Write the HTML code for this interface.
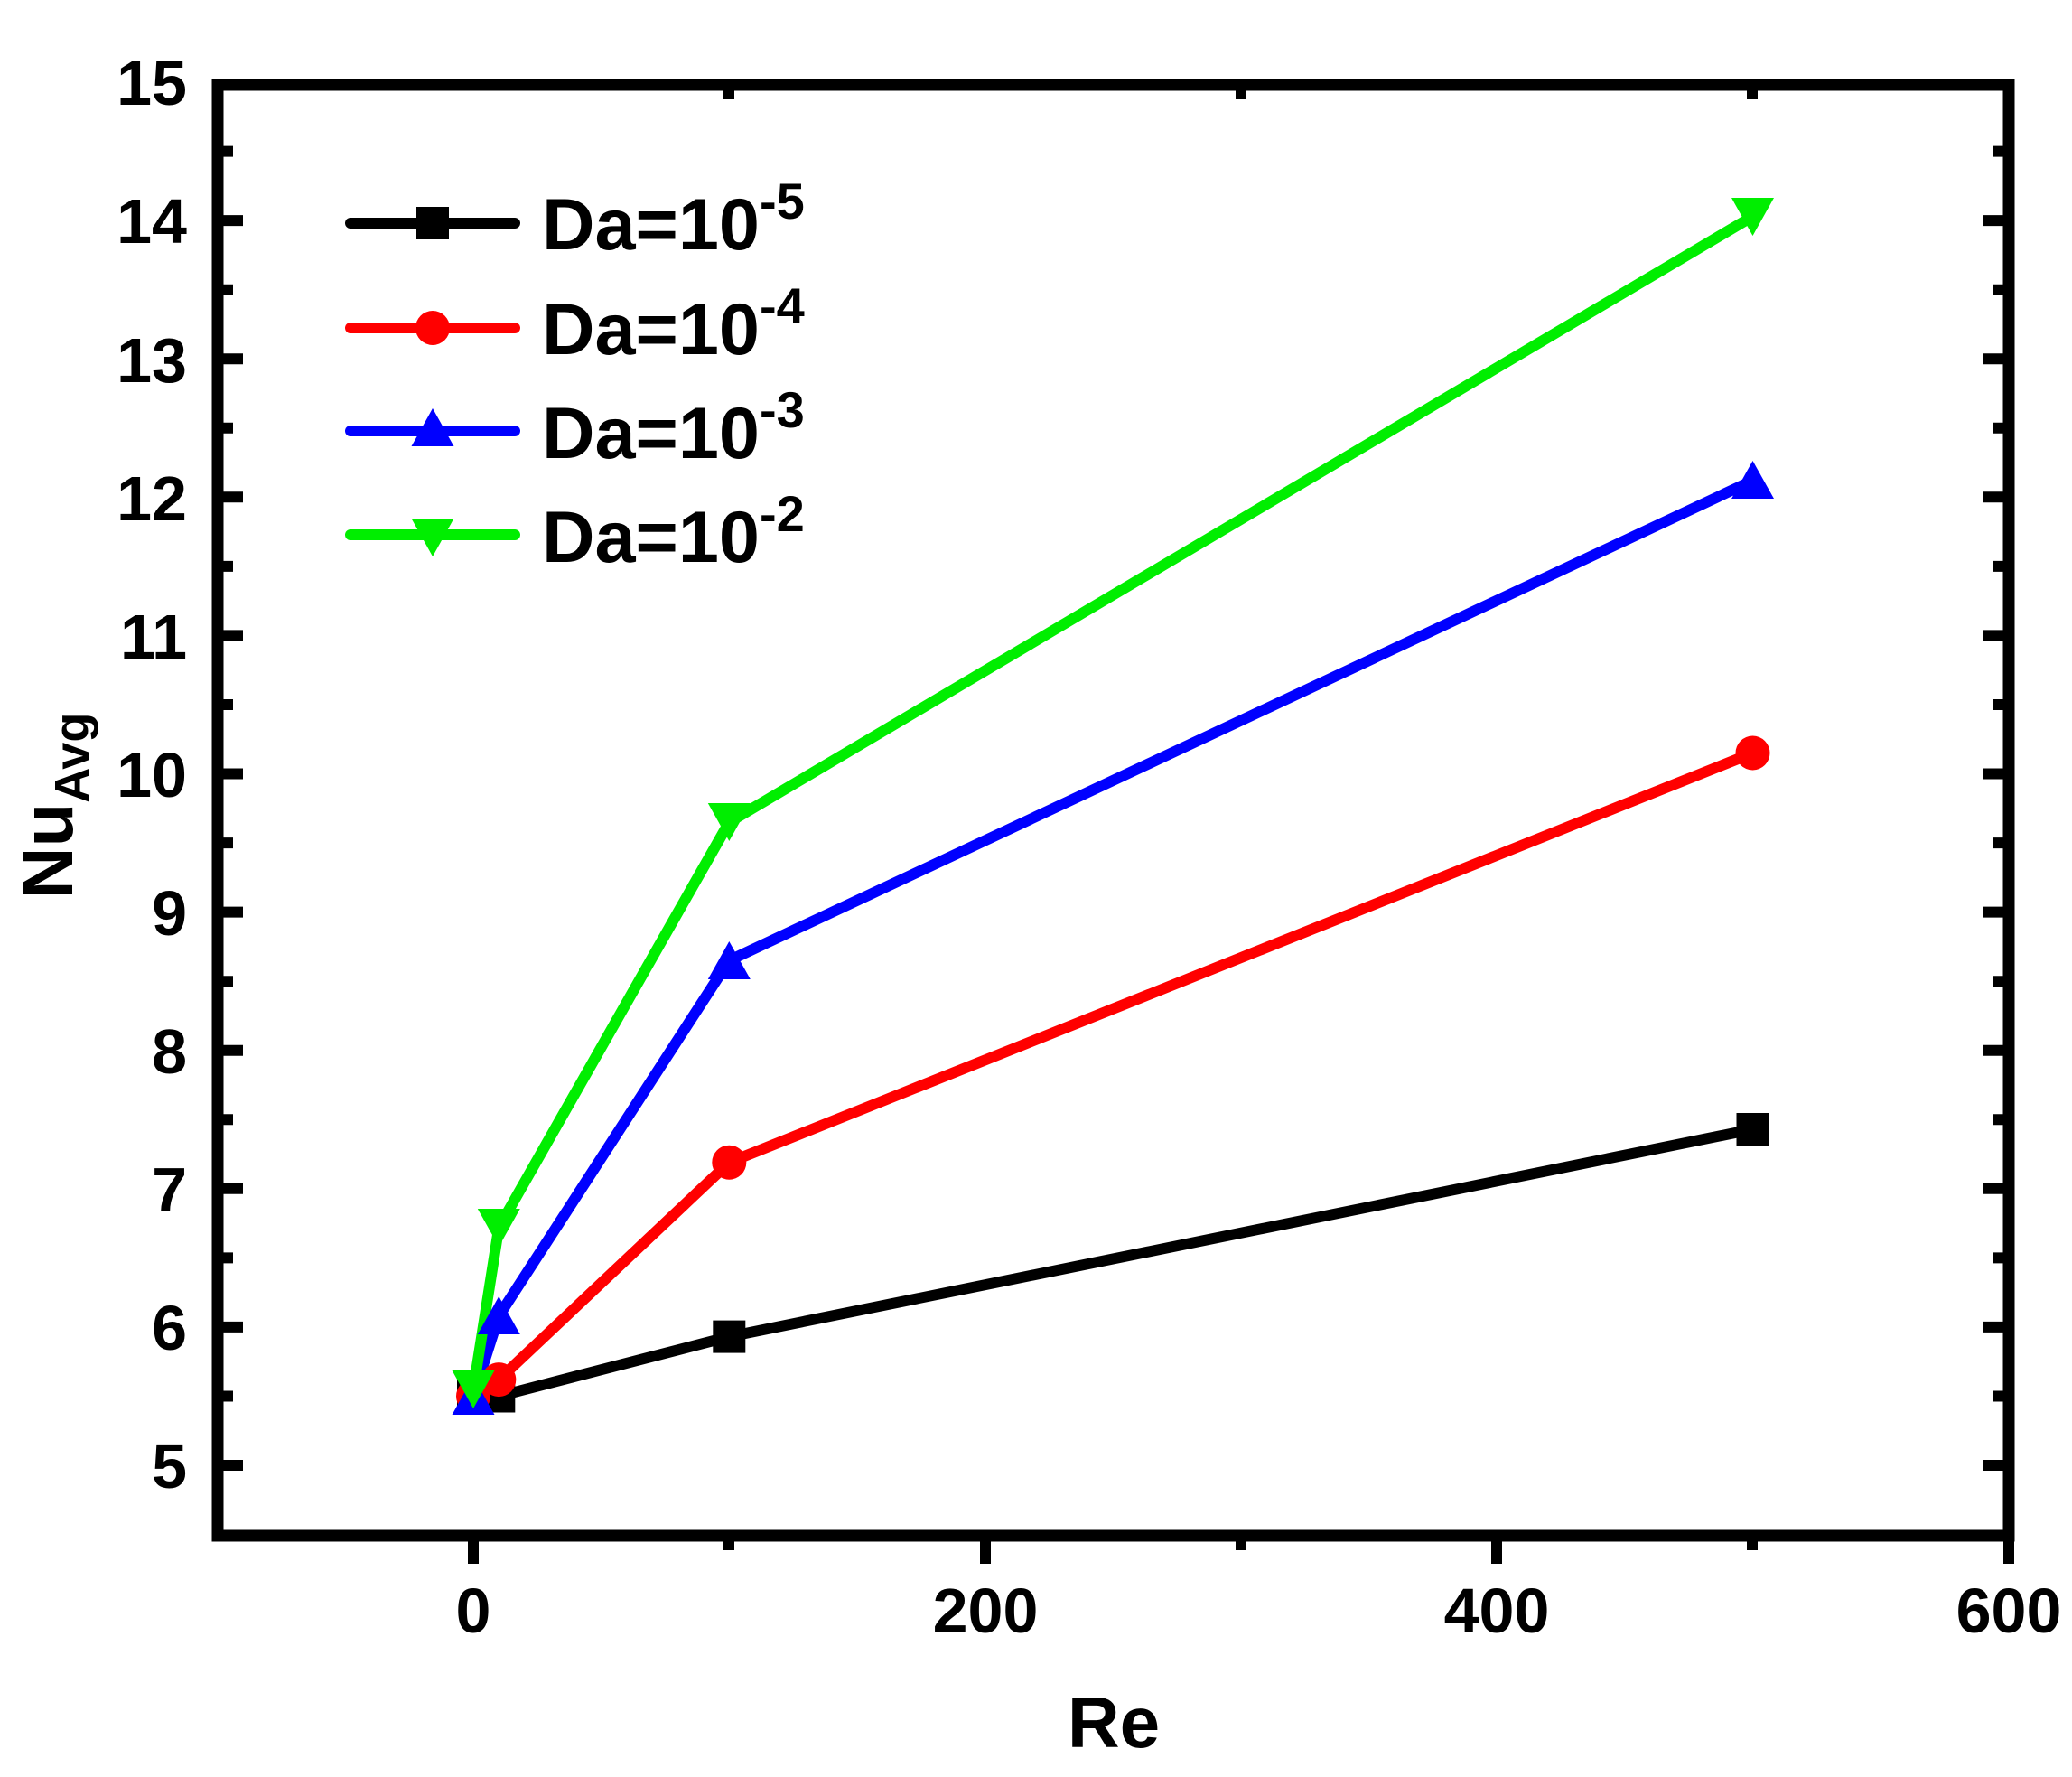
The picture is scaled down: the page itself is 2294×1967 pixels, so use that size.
<!DOCTYPE html>
<html><head><meta charset="utf-8"><style>
html,body{margin:0;padding:0;background:#fff;}
svg{display:block;}
text{font-family:"Liberation Sans",Arial,sans-serif;font-weight:bold;fill:#000;}
</style></head><body>
<svg width="2294" height="1967" viewBox="0 0 2294 1967" xmlns="http://www.w3.org/2000/svg">
<g stroke="#000" stroke-width="12" fill="none">
<path d="M241,1622h28M241,1468.9h28M241,1315.8h28M241,1162.7h28M241,1009.6h28M241,856.5h28M241,703.4h28M241,550.3h28M241,397.2h28M241,244.1h28
M241,1545.5h17M241,1392.4h17M241,1239.3h17M241,1086.2h17M241,933.1h17M241,780h17M241,626.9h17M241,473.8h17M241,320.7h17M241,167.6h17
M2224,1622h-28M2224,1468.9h-28M2224,1315.8h-28M2224,1162.7h-28M2224,1009.6h-28M2224,856.5h-28M2224,703.4h-28M2224,550.3h-28M2224,397.2h-28M2224,244.1h-28
M2224,1545.5h-17M2224,1392.4h-17M2224,1239.3h-17M2224,1086.2h-17M2224,933.1h-17M2224,780h-17M2224,626.9h-17M2224,473.8h-17M2224,320.7h-17M2224,167.6h-17
M524,1698v33M1091,1698v33M1657,1698v33M2224,1698v33M807,1698v18M1374,1698v18M1940,1698v18
M807,94v16M1374,94v16M1940,94v16"/>
</g>
<rect x="241" y="94" width="1983" height="1606" fill="none" stroke="#000" stroke-width="13"/>
<g font-size="70" text-anchor="end">
<text x="207" y="1647">5</text><text x="207" y="1494">6</text><text x="207" y="1341">7</text><text x="207" y="1188">8</text><text x="207" y="1035">9</text><text x="207" y="882">10</text><text x="207" y="729">11</text><text x="207" y="576">12</text><text x="207" y="423">13</text><text x="207" y="269">14</text><text x="207" y="116">15</text>
</g>
<g font-size="70" text-anchor="middle">
<text x="524" y="1807">0</text><text x="1091" y="1807">200</text><text x="1657" y="1807">400</text><text x="2224" y="1807">600</text>
</g>
<text x="1233" y="1934" font-size="80" text-anchor="middle">Re</text>
<text transform="translate(80,892) rotate(-90)" font-size="80" text-anchor="middle">Nu<tspan font-size="54" dy="18">Avg</tspan></text>
<g fill="none" stroke-width="12" stroke-linejoin="round">
<polyline stroke="#000" points="524,1545.5 552.3,1545.5 807.3,1479.6 1940.5,1250"/>
<polyline stroke="#ff0000" points="524,1545.5 552.3,1527.1 807.3,1286.7 1940.5,833.5"/>
<polyline stroke="#0000ff" points="524,1545.5 552.3,1456.7 807.3,1063.2 1940.5,531.9"/>
<polyline stroke="#00ee00" points="524,1537.8 552.3,1358.7 807.3,910.1 1940.5,239.5"/>
</g>
<g fill="#000">
<rect x="506" y="1527.5" width="36" height="36"/><rect x="534.3" y="1527.5" width="36" height="36"/><rect x="789.3" y="1461.6" width="36" height="36"/><rect x="1922.5" y="1232" width="36" height="36"/>
</g>
<g fill="#ff0000">
<circle cx="524" cy="1545.5" r="19"/><circle cx="552.3" cy="1527.1" r="19"/><circle cx="807.3" cy="1286.7" r="19"/><circle cx="1940.5" cy="833.5" r="19"/>
</g>
<g fill="#0000ff">
<path d="M524,1524l23.5,42h-47z"/><path d="M552.3,1435l23.5,42h-47z"/><path d="M807.3,1042l23.5,42h-47z"/><path d="M1940.5,510l23.5,42h-47z"/>
</g>
<g fill="#00ee00">
<path d="M524,1559l23.5,-42h-47z"/><path d="M552.3,1380l23.5,-42h-47z"/><path d="M807.3,931l23.5,-42h-47z"/><path d="M1940.5,261l23.5,-42h-47z"/>
</g>
<g stroke-width="12" stroke-linecap="round">
<line x1="388" y1="247" x2="570" y2="247" stroke="#000"/>
<line x1="388" y1="363" x2="570" y2="363" stroke="#ff0000"/>
<line x1="388" y1="477" x2="570" y2="477" stroke="#0000ff"/>
<line x1="388" y1="592" x2="570" y2="592" stroke="#00ee00"/>
</g>
<rect x="461" y="229" width="36" height="36" fill="#000"/>
<circle cx="479" cy="363" r="19" fill="#ff0000"/>
<path d="M479,452l23.5,42h-47z" fill="#0000ff"/>
<path d="M479,616l23.5,-42h-47z" fill="#00ee00"/>
<g font-size="81">
<text x="600" y="276">Da=10<tspan font-size="56" dy="-34">-5</tspan></text>
<text x="600" y="392">Da=10<tspan font-size="56" dy="-34">-4</tspan></text>
<text x="600" y="507">Da=10<tspan font-size="56" dy="-34">-3</tspan></text>
<text x="600" y="622">Da=10<tspan font-size="56" dy="-34">-2</tspan></text>
</g>
</svg>
</body></html>
